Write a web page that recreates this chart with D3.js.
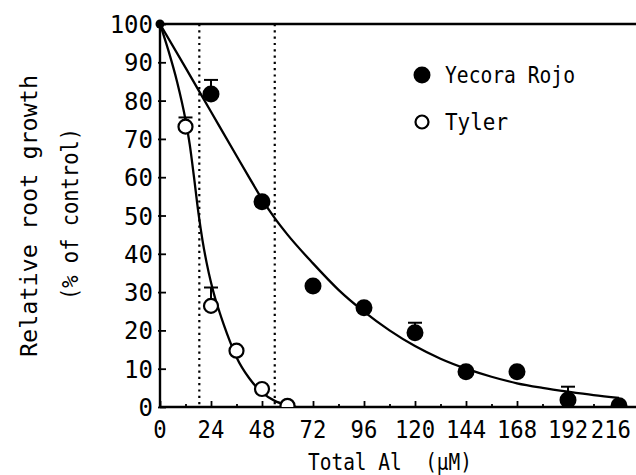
<!DOCTYPE html>
<html><head><meta charset="utf-8">
<script src="https://cdn.jsdelivr.net/npm/d3@7"></script>
<style>
body{margin:0;background:#fff;}
text{font-family:"DejaVu Sans Mono",monospace;fill:#000;}
</style></head>
<body><svg id="c" width="636" height="475"></svg>
<script>
// Data
const xTicks = [0,24,48,72,96,120,144,168,192,216];
const yTicks = [0,10,20,30,40,50,60,70,80,90,100];
const refLines = [18.5, 54];

const yecoraX = [0,24,48,72,96,120,144,168,192,216];
const yecoraY = [100,81.7,53.6,31.6,25.9,19.4,9.2,9.2,1.8,0.3];
const yecoraErr = [0,3.7,0,0,0,2.6,0,0,3.5,0];

const tylerX = [0,12,24,36,48,60];
const tylerY = [100,73.2,26.4,14.7,4.7,0.3];
const tylerErr = [0,2.4,4.8,0,0,0];

const yecoraFitX = [0,12,24,36,42,48,54,60,72,84,96,108,120,132,144,156,168,180,192,204,216];
const yecoraFitY = [100,88.6,77.1,65.6,59.9,54.3,49.3,45,37.5,30.6,24.9,20,15.9,12.6,10,7.9,6.2,5,4,3.1,2.4];

const tylerFitX = [0,4,8,12,14,16,18,20,22,24,26,28,30,33,36,42,48,54,60,64];
const tylerFitY = [100,93,85,75,68.5,60,51,43.5,37.5,32.5,28.3,24.8,21.5,17,13,7.5,3.8,1.6,0.5,0];

const legendLabels = ["Yecora Rojo","Tyler"];

const svg = d3.select("#c");
const x = d3.scaleLinear().domain([0,216]).range([160,619]);
const y = d3.scaleLinear().domain([0,100]).range([407,24]);
const xRight = 636;

svg.append("defs").append("clipPath").attr("id","clip")
  .append("rect").attr("x",160).attr("y",0).attr("width",476).attr("height",407);

// dotted reference lines
svg.selectAll(".ref").data(refLines).enter().append("line")
  .attr("x1",d=>x(d)).attr("x2",d=>x(d)).attr("y1",y(100)).attr("y2",y(0))
  .attr("stroke","#000").attr("stroke-width",2.2).attr("stroke-dasharray","2.2,4.1");

// frame top
svg.append("line").attr("x1",x(0)).attr("x2",xRight).attr("y1",y(100)).attr("y2",y(100))
  .attr("stroke","#000").attr("stroke-width",2.4);

// x axis
const xAxis = d3.axisBottom(x).tickValues(d3.range(0,228,12)).tickSize(0).tickFormat("");
const gx = svg.append("g").attr("transform",`translate(0,${y(0)})`).call(xAxis);
gx.select(".domain").remove();
gx.append("line").attr("x1",x(0)).attr("x2",xRight).attr("stroke","#000").attr("stroke-width",2.4);
gx.selectAll(".tick line").attr("stroke","#000").attr("stroke-width",1.8)
  .attr("y2",d=> d%24===0 ? -6 : -3);
svg.append("g").selectAll("text").data(xTicks).enter().append("text")
  .attr("y",438).attr("text-anchor","middle")
  .style("font-size","24px")
  .attr("textLength",d=>String(d).length*13.4).attr("lengthAdjust","spacingAndGlyphs")
  .attr("x",d=>Math.min(x(d), 631 - String(d).length*13.4/2))
  .text(d=>d);

// y axis
const yAxis = d3.axisLeft(y).tickValues(yTicks).tickSize(0).tickFormat("");
const gy = svg.append("g").attr("transform",`translate(${x(0)},0)`).call(yAxis);
gy.select(".domain").remove();
gy.append("line").attr("y1",y(0)).attr("y2",y(100)).attr("stroke","#000").attr("stroke-width",2.4);
gy.selectAll(".tick line").attr("stroke","#000").attr("stroke-width",1.8).attr("x1",-2).attr("x2",6);
svg.append("g").selectAll("text").data(yTicks).enter().append("text")
  .attr("x",153).attr("y",d=>y(d)+9).attr("text-anchor","end")
  .style("font-size","24px").text(d=>d);

// axis titles
svg.append("text").attr("x",390).attr("y",470).attr("text-anchor","middle")
  .style("font-size","23px").attr("xml:space","preserve")
  .attr("textLength",164).attr("lengthAdjust","spacingAndGlyphs").text("Total Al  (\u00b5M)");
svg.append("text").attr("transform","translate(37,216) rotate(-90)").attr("text-anchor","middle")
  .style("font-size","23px").attr("textLength",282).attr("lengthAdjust","spacingAndGlyphs")
  .text("Relative root growth");
svg.append("text").attr("transform","translate(78,214) rotate(-90)").attr("text-anchor","middle")
  .style("font-size","23px").attr("textLength",172).attr("lengthAdjust","spacingAndGlyphs")
  .text("(% of control)");

// fitted curves
const line = d3.line().x(d=>x(d[0])).y(d=>y(d[1])).curve(d3.curveMonotoneX);
const plot = svg.append("g").attr("clip-path","url(#clip)");
plot.append("path").datum(yecoraFitX.map((v,i)=>[v,yecoraFitY[i]]))
  .attr("d",line).attr("fill","none").attr("stroke","#000").attr("stroke-width",2.3);
plot.append("path").datum(tylerFitX.map((v,i)=>[v,tylerFitY[i]]))
  .attr("d",line).attr("fill","none").attr("stroke","#000").attr("stroke-width",2.3);

// error bars
function errBars(xs, ys, es){
  const d = xs.map((v,i)=>({x:v,y:ys[i],e:es[i]})).filter(p=>p.e>0);
  const g = plot.append("g");
  g.selectAll(".s").data(d).enter().append("line")
    .attr("x1",p=>x(p.x)).attr("x2",p=>x(p.x)).attr("y1",p=>y(p.y)).attr("y2",p=>y(p.y+p.e))
    .attr("stroke","#000").attr("stroke-width",2);
  g.selectAll(".c").data(d).enter().append("line")
    .attr("x1",p=>x(p.x)-7).attr("x2",p=>x(p.x)+7).attr("y1",p=>y(p.y+p.e)).attr("y2",p=>y(p.y+p.e))
    .attr("stroke","#000").attr("stroke-width",2);
}
errBars(yecoraX, yecoraY, yecoraErr);
errBars(tylerX, tylerY, tylerErr);

// points
plot.selectAll(".yp").data(yecoraX.slice(1)).enter().append("circle")
  .attr("cx",d=>x(d)).attr("cy",(d,i)=>y(yecoraY[i+1])).attr("r",8.5).attr("fill","#000");
plot.selectAll(".tp").data(tylerX.slice(1)).enter().append("circle")
  .attr("cx",d=>x(d)).attr("cy",(d,i)=>y(tylerY[i+1])).attr("r",7).attr("fill","#fff")
  .attr("stroke","#000").attr("stroke-width",2.2);
svg.append("circle").attr("cx",x(0)).attr("cy",y(100)).attr("r",4.5).attr("fill","#000");

// legend
const lg = svg.append("g");
lg.append("circle").attr("cx",422).attr("cy",75).attr("r",8.5).attr("fill","#000");
lg.append("circle").attr("cx",422).attr("cy",122).attr("r",6.5).attr("fill","#fff").attr("stroke","#000").attr("stroke-width",2.2);
const legendLen = [130, 63];
lg.selectAll("text").data(legendLabels).enter().append("text")
  .attr("x",445).attr("y",(d,i)=>83+i*47).style("font-size","23px")
  .attr("textLength",(d,i)=>legendLen[i]).attr("lengthAdjust","spacingAndGlyphs").text(d=>d);
</script></body></html>
